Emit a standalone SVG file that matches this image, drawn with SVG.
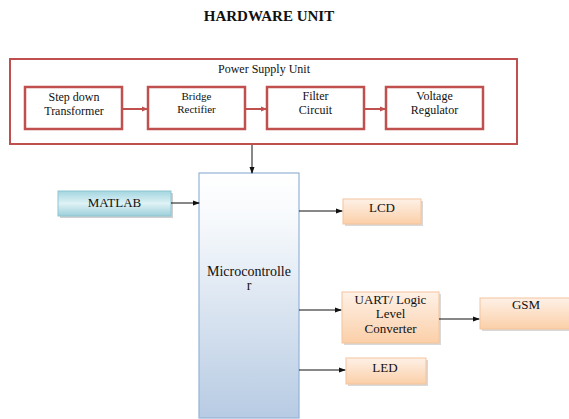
<svg xmlns="http://www.w3.org/2000/svg" width="569" height="419" viewBox="0 0 569 419" font-family="'Liberation Serif', 'DejaVu Serif', serif">
<defs>
<style>
text{font-family:'Liberation Serif','DejaVu Serif',serif;fill:#111;text-anchor:middle}
.title{font-size:15px;font-weight:bold}
.ps{font-size:12px}
.lbl{font-size:13px}
.red{fill:#fff;stroke:#c0504d;stroke-width:2.5}
.outer{fill:#fff;stroke:#c0504d;stroke-width:2}
.org{fill:url(#gOrg);stroke:#f4c49d;stroke-width:1}
.shadow{fill:#d9d9d9}
.rline{stroke:#c0504d;stroke-width:2;fill:none}
.bline{stroke:#111;stroke-width:1;fill:none}
</style>
<linearGradient id="gOrg" x1="0" y1="0" x2="0" y2="1">
<stop offset="0" stop-color="#fef1e7"/>
<stop offset="1" stop-color="#fbcfa8"/>
</linearGradient>
<linearGradient id="gTeal" x1="0" y1="0" x2="0" y2="1">
<stop offset="0" stop-color="#a3d6e0"/>
<stop offset="0.5" stop-color="#dff2f5"/>
<stop offset="1" stop-color="#9ccfdb"/>
</linearGradient>
<linearGradient id="gBlue" x1="0" y1="0" x2="0" y2="1">
<stop offset="0" stop-color="#ffffff"/>
<stop offset="0.2" stop-color="#f6f9fc"/>
<stop offset="1" stop-color="#b7cbe3"/>
</linearGradient>
<marker id="ar" markerWidth="6" markerHeight="6" refX="5" refY="3" orient="auto" markerUnits="userSpaceOnUse">
<path d="M0,0.5 L6,3 L0,5.5 Z" fill="#c0504d"/>
</marker>
<marker id="ab" markerWidth="7" markerHeight="6" refX="6" refY="3" orient="auto" markerUnits="userSpaceOnUse">
<path d="M0,0.5 L7,3 L0,5.5 Z" fill="#111"/>
</marker>
</defs>
<rect width="569" height="419" fill="#fff"/>
<text class="title" x="269" y="21">HARDWARE UNIT</text>

<g id="psu">
<rect class="outer" x="10" y="59" width="507" height="85"/>
<text class="ps" x="264" y="73">Power Supply Unit</text>
</g>
<g id="stepdown">
<rect class="red" x="25" y="87" width="97" height="42"/>
<text class="ps" x="74" y="101">Step down</text>
<text class="ps" x="74" y="115">Transformer</text>
</g>
<g id="bridge">
<rect class="red" x="148" y="87" width="97" height="42"/>
<text class="ps" x="196.5" y="100" style="font-size:11px">Bridge</text>
<text class="ps" x="196.5" y="113" style="font-size:11px">Rectifier</text>
</g>
<g id="filter">
<rect class="red" x="267" y="87" width="97" height="42"/>
<text class="ps" x="315.5" y="100">Filter</text>
<text class="ps" x="315.5" y="114">Circuit</text>
</g>
<g id="regulator">
<rect class="red" x="386" y="87" width="97" height="42"/>
<text class="ps" x="434.5" y="100">Voltage</text>
<text class="ps" x="434.5" y="114">Regulator</text>
</g>

<g id="matlab">
<rect x="60" y="193" width="113" height="25" fill="#d0d0d0"/>
<rect x="58" y="191" width="113" height="25" fill="url(#gTeal)" stroke="#8ec6d2" stroke-width="1"/>
<text class="lbl" x="114.5" y="207">MATLAB</text>
</g>
<g id="microcontroller">
<rect x="199" y="173" width="100" height="245" fill="url(#gBlue)" stroke="#95b3d7" stroke-width="1.2"/>
<text class="lbl" x="249" y="276" style="font-size:14px">Microcontrolle</text>
<text class="lbl" x="249" y="290" style="font-size:14px">r</text>
</g>
<g id="lcd">
<rect class="shadow" x="345" y="201" width="78" height="25"/>
<rect class="org" x="343" y="199" width="78" height="25"/>
<text class="lbl" x="382" y="212">LCD</text>
</g>
<g id="uart">
<rect class="shadow" x="344" y="294" width="97" height="51"/>
<rect class="org" x="342" y="292" width="97" height="51"/>
<text class="lbl" x="390.5" y="304">UART/ Logic</text>
<text class="lbl" x="390.5" y="318">Level</text>
<text class="lbl" x="390.5" y="333">Converter</text>
</g>
<g id="gsm">
<rect class="shadow" x="482" y="300" width="90" height="31"/>
<rect class="org" x="480" y="298" width="90" height="31"/>
<text class="lbl" x="526" y="309">GSM</text>
</g>
<g id="led">
<rect class="shadow" x="348" y="360" width="80" height="26"/>
<rect class="org" x="346" y="358" width="80" height="26"/>
<text class="lbl" x="385" y="372">LED</text>
</g>

<g id="connectors">
<line class="rline" x1="122" y1="109" x2="147" y2="109" marker-end="url(#ar)"/>
<line class="rline" x1="245" y1="109" x2="266" y2="109" marker-end="url(#ar)"/>
<line class="rline" x1="364" y1="109" x2="385" y2="109" marker-end="url(#ar)"/>
<line class="bline" x1="252" y1="145" x2="252" y2="173" marker-end="url(#ab)"/>
<line class="bline" x1="171" y1="203" x2="199" y2="203" marker-end="url(#ab)"/>
<line class="bline" x1="299" y1="211" x2="342" y2="211" marker-end="url(#ab)"/>
<line class="bline" x1="299" y1="310" x2="341" y2="310" marker-end="url(#ab)"/>
<line class="bline" x1="439" y1="319" x2="479" y2="319" marker-end="url(#ab)"/>
<line class="bline" x1="299" y1="370" x2="345" y2="370" marker-end="url(#ab)"/>
</g>
</svg>
